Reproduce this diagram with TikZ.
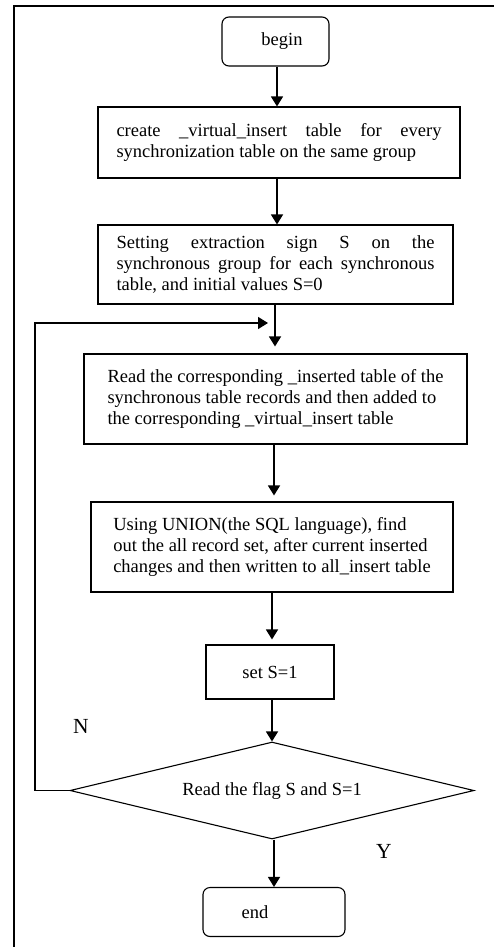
\documentclass[tikz,border=0pt]{standalone}
\usepackage{fontspec}
\setmainfont{Liberation Serif}
\usetikzlibrary{arrows.meta,shapes.geometric}
\hyphenpenalty=10000
\exhyphenpenalty=10000
\begin{document}
\begin{tikzpicture}[x=1pt,y=-1pt,
  txt/.style={font=\fontsize{18.5}{20.7}\selectfont},
  box/.style={draw, line width=1.1pt, inner sep=0pt, txt},
  rbox/.style={box, rounded corners=7pt},
  dia/.style={draw, line width=1.1pt, diamond, shape aspect=4.16, inner sep=0pt, txt},
  arr/.style={line width=1.4pt, -{Triangle[length=10pt,width=12pt]}},
  lbl/.style={font=\fontsize{21.5}{24}\selectfont, inner sep=0pt}]
\useasboundingbox (0,0) rectangle (494,947);
\draw[line width=1.2pt] (14,947) -- (14,6) -- (494,6);
% nodes
\node[rbox, minimum width=107pt, minimum height=49pt] (begin) at (275.5,41.5) {\hspace*{13pt}begin};
\node[box, minimum width=362pt, minimum height=71pt, text width=325pt, align=justify] (b1) at (279,142.5)
  {create \_virtual\_insert table for every synchronization table on the same group};
\node[box, minimum width=355pt, minimum height=79pt, text width=318pt, align=justify] (b2) at (275.5,264.5)
  {Setting extraction sign S on the synchronous group for each synchronous table, and initial values S=0};
\node[box, minimum width=383pt, minimum height=90pt, align=left] (b3) at (275.5,399)
  {Read the corresponding \_inserted table of the\\ synchronous table records and then added to\\ the corresponding \_virtual\_insert table};
\node[box, minimum width=362pt, minimum height=90pt, align=left] (b4) at (272,547)
  {Using UNION(the SQL language), find\\ out the all record set, after current inserted\\ changes and then written to all\_insert table};
\node[box, minimum width=128pt, minimum height=54pt] (b5) at (270,672) {set S=1};
\node[dia, minimum width=404pt, minimum height=97pt] (d) at (272,790.5) {Read the flag S and S=1};
\node[rbox, minimum width=142pt, minimum height=49pt] (end) at (274,912) {end\hspace*{38pt}};
\node[lbl] (N) at (81,726) {N};
\node[lbl] (Y) at (384,851) {Y};
% helper coordinates
\coordinate (x277) at (277,0);
\coordinate (x275) at (275,0);
\coordinate (x274) at (274,0);
\coordinate (x272) at (272,0);
\coordinate (lx) at (35,0);
\coordinate (ret) at (268,323);
% connectors
\draw[arr] (begin.south -| x277) -- (b1.north -| x277);
\draw[arr] (b1.south -| x277) -- (b2.north -| x277);
\draw[arr, shorten >=7pt] (b2.south -| x275) -- (b3.north -| x275);
\draw[arr, shorten >=6pt] (b3.south -| x274) -- (b4.north -| x274);
\draw[arr, shorten >=5pt] (b4.south -| x272) -- (b5.north -| x272);
\draw[arr] (b5.south -| x272) -- (d.north);
\draw[arr] (d.south -| x274) -- (end.north -| x274);
\draw[arr] (d.west) -- (d.west -| lx) |- (ret);
\end{tikzpicture}
\end{document}
